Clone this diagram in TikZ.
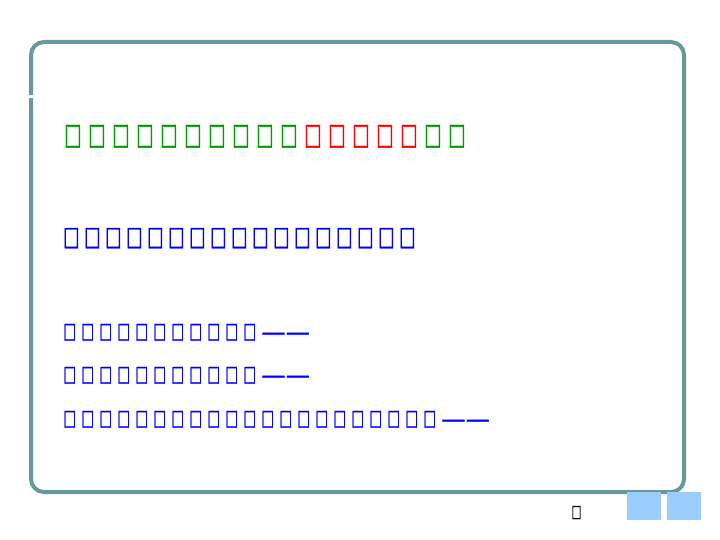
\documentclass[tikz,border=0pt]{standalone}
\usepackage{fontspec}
\usepackage{graphicx}
\setmainfont{DejaVu Sans}
\newfontfamily\bxfont[FakeBold=1.5]{DejaVu Sans}
\definecolor{framec}{HTML}{669999}
\definecolor{tgreen}{HTML}{009900}
\definecolor{tred}{HTML}{FF0000}
\definecolor{tblue}{HTML}{0000FF}
\definecolor{lblue}{HTML}{99CCFF}
\newcommand\Ta{\makebox[24pt][l]{\resizebox{17.3pt}{19pt}{\bxfont □}}}
\newcommand\Tb{\makebox[21pt][l]{\resizebox{16.2pt}{17pt}{\bxfont □}}}
\newcommand\Tc{\makebox[18pt][l]{\resizebox{12.6pt}{14pt}{\bxfont □}}}
\newcommand\Dd{\makebox[24.3pt][l]{\raisebox{-2.3pt}{\bxfont\fontsize{24}{24}\selectfont —}}}
\tikzset{
  txt/.style={anchor=base west, inner sep=0pt, outer sep=0pt},
  deco/.style={fill=lblue, draw=none},
}
\begin{document}
\begin{tikzpicture}[x=1pt,y=-1pt]
\useasboundingbox (0,0) rectangle (720,540);
\fill[white] (0,0) rectangle (720,540);
% frame
\draw[framec, line width=4pt, rounded corners=13pt] (31,42) rectangle (684,492);
\fill[white] (27,95) rectangle (36,98);
\foreach \a/\b in {42/83,105/116,137/148,169/180,201/212,233/244,265/285}
  \fill[framec] (\a,42) rectangle (\b,44.5);
% text lines
\node[txt, text=tgreen] (l1) at (64.3,144)
  {\Ta\Ta\Ta\Ta\Ta\Ta\Ta\Ta\Ta\Ta\textcolor{tred}{\Ta\Ta\Ta\Ta\Ta}\Ta\Ta};
\node[txt, text=tblue] (l2) at (63.3,245)
  {\Tb\Tb\Tb\Tb\Tb\Tb\Tb\Tb\Tb\Tb\Tb\Tb\Tb\Tb\Tb\Tb\Tb};
\node[txt, text=tblue] (l3) at (63.5,338)
  {\Tc\Tc\Tc\Tc\Tc\Tc\Tc\Tc\Tc\Tc\Tc\Dd\Dd};
\node[txt, text=tblue] (l4) at (63.5,381)
  {\Tc\Tc\Tc\Tc\Tc\Tc\Tc\Tc\Tc\Tc\Tc\Dd\Dd};
\node[txt, text=tblue] (l5) at (63.5,425)
  {\Tc\Tc\Tc\Tc\Tc\Tc\Tc\Tc\Tc\Tc\Tc\Tc\Tc\Tc\Tc\Tc\Tc\Tc\Tc\Tc\Tc\Dd\Dd};
% page number
\node[txt] (pg) at (571.6,517) {\resizebox{9.8pt}{11pt}{\bxfont □}};
% decorative squares
\path[deco] (627,492) rectangle (661,520);
\path[deco] (667,492) rectangle (701,520);
\end{tikzpicture}
\end{document}
